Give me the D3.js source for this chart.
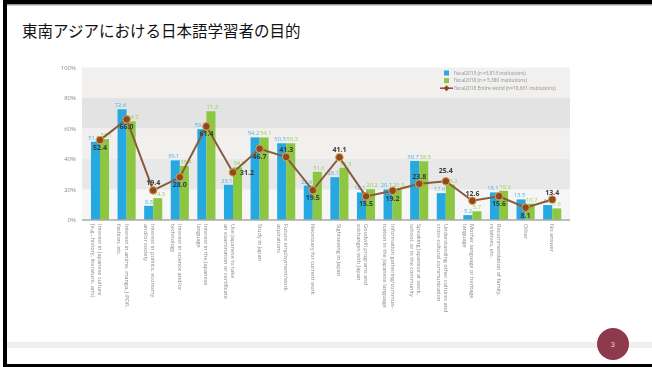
<!DOCTYPE html>
<html>
<head>
<meta charset="utf-8">
<script src="https://cdn.jsdelivr.net/npm/d3@7"></script>
<style>
  html, body { margin: 0; padding: 0; background: #fff; }
  svg { display: block; }
</style>
</head>
<body>
<svg id="slide" width="652" height="367"></svg>
<script>
// Learning purposes of Japanese-language learners in Southeast Asia
const categories = [
  ["Interest in Japanese culture", "(e.g., history, literature, arts)"],
  ["Interest in anime, manga, J-POP,", "fashion, etc."],
  ["Interest in politics, economy", "and/or society"],
  ["Interest in science and/or", "technology"],
  ["Interest in the Japanese", "language"],
  ["Use Japanese to take", "an examination or certificate"],
  ["Study in Japan"],
  ["Future employment/work", "aspirations"],
  ["Necessary for current work"],
  ["Sightseeing in Japan"],
  ["Goodwill programs and", "exchanges with Japan"],
  ["Information gathering/commun-", "ication in the Japanese language"],
  ["Speaking Japanese at work,", "school, or in the community"],
  ["Understanding other cultures and", "cross-cultural communication"],
  ["Mother language or heritage", "language"],
  ["Recommendation of family,", "relatives, etc."],
  ["Other"],
  ["No answer"]
];
const fiscal2015 = [51.3, 72.6, 9.3, 39.1, 59.6, 23.1, 54.2, 50.3, 22.6, 28.1, 18.1, 20.1, 38.7, 17.6, 3.2, 18.1, 13.5, 9.8];
const fiscal2018 = [53.1, 64.7, 14.3, 35.4, 71.3, 34.5, 54.1, 50.3, 31.6, 34.3, 20.2, 20.5, 38.5, 23.2, 5.7, 19.2, 10.7, 7.6];
const worldwide2018 = [52.4, 66.0, 19.4, 28.0, 61.4, 31.2, 46.7, 41.3, 19.5, 41.1, 15.5, 19.2, 23.8, 25.4, 12.6, 15.6, 8.1, 13.4];
const yTicks = [0, 20, 40, 60, 80, 100];
const legendLabels = [
  "fiscal2015 (n =3,813 institutions)",
  "fiscal2018 (n = 5,380 institutions)",
  "fiscal2018 Entire world (n=18,661 institutions)"
];
// where each worldwide value label sits relative to its point (b below, a above, A well above, r right)
const lineLabelSide = ["b","b","a","b","b","r","b","a","b","a","b","b","a","A","a","b","b","a"];
const labelDy = { b: 10, a: -5, A: -8, r: 2.5 };

const svg = d3.select("#slide");
const W = 652, H = 367;

// slide frame
svg.append("rect").attr("width", W).attr("height", H).attr("fill", "#fff");
svg.append("rect").attr("x", 3).attr("y", 0).attr("width", W - 3).attr("height", 4).attr("fill", "#000");
svg.append("rect").attr("x", 3).attr("y", 4).attr("width", W - 3).attr("height", 1.5).attr("fill", "#9a9a9a");
svg.append("rect").attr("x", 3).attr("y", 0).attr("width", 4).attr("height", H).attr("fill", "#000");
svg.append("rect").attr("x", 7).attr("y", 342).attr("width", W - 7).attr("height", 6).attr("fill", "#efefef");
svg.append("rect").attr("x", 3).attr("y", 364).attr("width", W - 3).attr("height", 3).attr("fill", "#000");

svg.append("text")
  .attr("x", 22).attr("y", 37)
  .attr("font-family", "'Noto Sans CJK JP', sans-serif")
  .attr("font-size", 15.5)
  .attr("fill", "#111")
  .text("東南アジアにおける日本語学習者の目的");

// page number badge
svg.append("circle").attr("cx", 613).attr("cy", 344).attr("r", 16).attr("fill", "#8c3a4c");
svg.append("text").attr("x", 613).attr("y", 346.5).attr("text-anchor", "middle")
  .attr("font-family", "Roboto, sans-serif").attr("font-size", 7).attr("fill", "#e8d6da").text("3");

// chart
const defs = svg.append("defs");
defs.append("filter").attr("id", "soft").attr("x", "-5%").attr("y", "-5%").attr("width", "110%").attr("height", "110%")
  .append("feGaussianBlur").attr("stdDeviation", 0.45);

const g = svg.append("g").attr("filter", "url(#soft)");
const plotL = 82, plotR = 570;
const y = d3.scaleLinear().domain([0, 100]).range([220, 67.5]);
const x = d3.scaleBand().domain(d3.range(categories.length)).range([86.7, 565.5]).paddingInner(0.32).paddingOuter(0.16);
const xs = d3.scaleBand().domain([0, 1]).range([0, x.bandwidth()]);

const bandFill = ["#f6f6f6", "#e8e8e8", "#f1f0ee", "#e3e3e3", "#f1f0ef"];
yTicks.slice(0, -1).forEach((t, i) => {
  g.append("rect").attr("x", plotL).attr("width", plotR - plotL)
    .attr("y", y(yTicks[i + 1])).attr("height", y(t) - y(yTicks[i + 1]))
    .attr("fill", bandFill[i]);
});

const yAxis = d3.axisLeft(y).tickValues(yTicks).tickFormat(d => d + "%").tickSize(0).tickPadding(6);
const ya = g.append("g").attr("transform", `translate(${plotL},0)`).call(yAxis);
ya.select(".domain").remove();
ya.selectAll("text").attr("font-family", "'Open Sans', sans-serif").attr("font-size", 6).attr("fill", "#8a8a8a");

const colors = { a: "#27a9e1", b: "#8dc63f", line: "#8a5a3e" };

const groups = g.selectAll(".pair").data(categories).join("g")
  .attr("transform", (d, i) => `translate(${x(i)},0)`);

groups.append("rect").attr("x", xs(0)).attr("width", xs.bandwidth())
  .attr("y", (d, i) => y(fiscal2015[i])).attr("height", (d, i) => y(0) - y(fiscal2015[i])).attr("fill", colors.a);
groups.append("rect").attr("x", xs(1)).attr("width", xs.bandwidth())
  .attr("y", (d, i) => y(fiscal2018[i])).attr("height", (d, i) => y(0) - y(fiscal2018[i])).attr("fill", colors.b);

// bar values meet at the middle of each pair
const mid = x.bandwidth() / 2;
groups.append("text").attr("x", mid - 0.4).attr("y", (d, i) => y(fiscal2015[i]) - 2)
  .attr("text-anchor", "end").attr("font-family", "'Open Sans', sans-serif").attr("font-size", 5.8)
  .attr("fill", "#4db3e6").text((d, i) => fiscal2015[i].toFixed(1));
groups.append("text").attr("x", mid + 0.4).attr("y", (d, i) => y(fiscal2018[i]) - 2)
  .attr("text-anchor", "start").attr("font-family", "'Open Sans', sans-serif").attr("font-size", 5.8)
  .attr("fill", "#9ccd5a").text((d, i) => fiscal2018[i].toFixed(1));

// baseline
g.append("line").attr("x1", plotL).attr("x2", plotR).attr("y1", y(0)).attr("y2", y(0))
  .attr("stroke", "#a9a9a9").attr("stroke-width", 1.5);

// category labels, rotated to read downward
const cx = i => x(i) + x.bandwidth() / 2;
const lab = g.selectAll(".cat").data(categories).join("text")
  .attr("transform", (d, i) => `translate(${cx(i) - 2},${y(0) + 4}) rotate(90)`)
  .attr("font-family", "'Open Sans', sans-serif").attr("font-size", 5.6).attr("fill", "#8a8a8a");
lab.selectAll("tspan").data(d => d).join("tspan")
  .attr("x", 0).attr("dy", (d, j) => j === 0 ? 0 : 7.2).text(d => d);

// worldwide line
const line = d3.line().x((d, i) => cx(i)).y(d => y(d));
g.append("path").datum(worldwide2018).attr("d", line).attr("fill", "none")
  .attr("stroke", colors.line).attr("stroke-width", 2);
g.selectAll(".pt").data(worldwide2018).join("circle")
  .attr("cx", (d, i) => cx(i)).attr("cy", d => y(d)).attr("r", 3.8)
  .attr("fill", "#8c4a2c").attr("stroke", "#e6a23a").attr("stroke-width", 1);
g.selectAll(".pl").data(worldwide2018).join("text")
  .attr("x", (d, i) => cx(i) + (lineLabelSide[i] === "r" ? 7 : 0))
  .attr("y", (d, i) => y(d) + labelDy[lineLabelSide[i]])
  .attr("text-anchor", (d, i) => lineLabelSide[i] === "r" ? "start" : "middle")
  .attr("font-family", "'Open Sans', sans-serif").attr("font-size", 7).attr("font-weight", 700)
  .attr("fill", "#3a3a3a").text(d => d.toFixed(1));

// legend
const lg = g.append("g").attr("transform", "translate(442,73)");
legendLabels.forEach((t, i) => {
  const row = lg.append("g").attr("transform", `translate(0,${i * 7.6})`);
  if (i < 2) {
    row.append("rect").attr("x", 2).attr("y", -2.5).attr("width", 5).attr("height", 5).attr("fill", i === 0 ? colors.a : colors.b);
  } else {
    row.append("line").attr("x1", -2).attr("x2", 11).attr("y1", 0).attr("y2", 0).attr("stroke", colors.line).attr("stroke-width", 1.6);
    row.append("path").attr("d", "M4.5,-3 L7.5,0 L4.5,3 L1.5,0 Z").attr("fill", "#8c4a2c");
  }
  row.append("text").attr("x", 12).attr("y", 1.8)
    .attr("font-family", "'Open Sans', sans-serif").attr("font-size", 4.8).attr("fill", "#8f8f8f").text(t);
});
</script>
</body>
</html>
